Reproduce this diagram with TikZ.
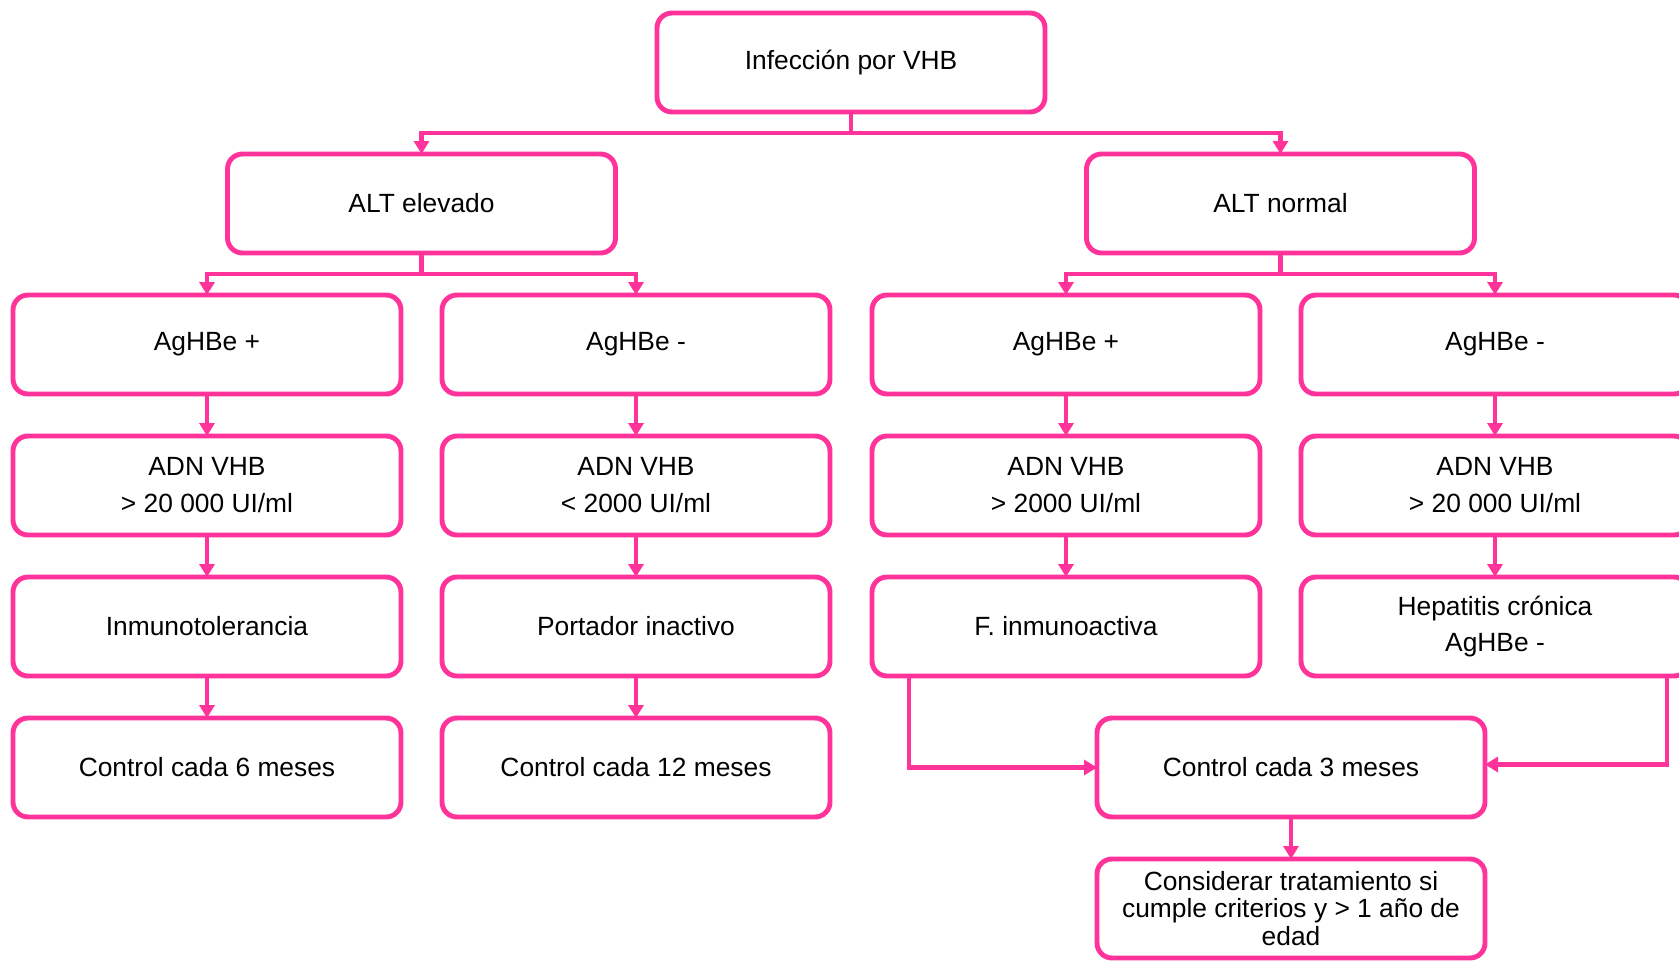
\documentclass[tikz,border=0pt]{standalone}
\usepackage{fontspec}
\setmainfont{Liberation Sans}
\usetikzlibrary{arrows.meta,positioning}

\definecolor{vhbpink}{RGB}{255,51,153}

\begin{document}
\begin{tikzpicture}[auto,
		node distance=0.84cm and 0.82cm,
		place/.style={rectangle,draw=vhbpink,line width=2.8pt,rounded corners=0.3cm,outer sep=0pt,
			minimum width=7.76cm,minimum height=1.98cm,align=center,
			font=\fontsize{15}{21}\selectfont},
		marrow/.style={-{Triangle[width=0.3cm,length=0.26cm]},draw=vhbpink,line width=2.8pt}]
		\useasboundingbox (0,0) rectangle (33.58,-19.22);

		\node [place] (infeccion) at (17.02,-1.25) {Infección por VHB};

		\node [place] (alt-elev) [below=of infeccion,xshift=-8.59cm] {ALT elevado};
		\node [place] (alt-norm) [below=of infeccion,xshift=8.59cm] {ALT normal};

		\node [place] (ag-ep) [below=of alt-elev,xshift=-4.29cm] {AgHBe +};
		\node [place] (ag-en) [right=of ag-ep] {AgHBe -};
		\node [place] (ag-np) [below=of alt-norm,xshift=-4.29cm] {AgHBe +};
		\node [place] (ag-nn) [right=of ag-np] {AgHBe -};

		\node [place] (adn-ep) [below=of ag-ep] {ADN VHB\\> 20 000 UI/ml};
		\node [place] (adn-en) [below=of ag-en] {ADN VHB\\< 2000 UI/ml};
		\node [place] (adn-np) [below=of ag-np] {ADN VHB\\> 2000 UI/ml};
		\node [place] (adn-nn) [below=of ag-nn] {ADN VHB\\> 20 000 UI/ml};

		\node [place] (inmunotol) [below=of adn-ep] {Inmunotolerancia};
		\node [place] (portador) [below=of adn-en] {Portador inactivo};
		\node [place] (inmunoact) [below=of adn-np] {F. inmunoactiva};
		\node [place] (hepatitis) [below=of adn-nn] {Hepatitis crónica\\AgHBe -};

		\node [place] (control-6) [below=of inmunotol] {Control cada 6 meses};
		\node [place] (control-12) [below=of portador] {Control cada 12 meses};
		\node [place] (control-3) [below=of inmunoact,xshift=4.5cm] {Control cada 3 meses};

		\node [place,font=\fontsize{15}{15.5}\selectfont] (tratamiento) [below=of control-3] {
			Considerar tratamiento si\\cumple criterios y > 1 año de\\edad
		};

		% branching arrows
		\draw [marrow] (infeccion.south) -- ++(0,-0.42) -| (alt-elev.north);
		\draw [marrow] (infeccion.south) -- ++(0,-0.42) -| (alt-norm.north);
		\draw [marrow] (alt-elev.south) -- ++(0,-0.42) -| (ag-ep.north);
		\draw [marrow] (alt-elev.south) -- ++(0,-0.42) -| (ag-en.north);
		\draw [marrow] (alt-norm.south) -- ++(0,-0.42) -| (ag-np.north);
		\draw [marrow] (alt-norm.south) -- ++(0,-0.42) -| (ag-nn.north);

		% vertical arrows
		\draw [marrow] (ag-ep) to (adn-ep);
		\draw [marrow] (ag-en) to (adn-en);
		\draw [marrow] (ag-np) to (adn-np);
		\draw [marrow] (ag-nn) to (adn-nn);

		\draw [marrow] (adn-ep) to (inmunotol);
		\draw [marrow] (adn-en) to (portador);
		\draw [marrow] (adn-np) to (inmunoact);
		\draw [marrow] (adn-nn) to (hepatitis);

		\draw [marrow] (inmunotol) to (control-6);
		\draw [marrow] (portador) to (control-12);
		\draw [marrow] (control-3) to (tratamiento);

		% side arrows
		\draw [marrow] ([xshift=0.74cm]inmunoact.south west) |- (control-3.west);
		\draw [marrow] ([xshift=-0.44cm]hepatitis.south east) |- ([yshift=0.06cm]control-3.east);
	\end{tikzpicture}
\end{document}
